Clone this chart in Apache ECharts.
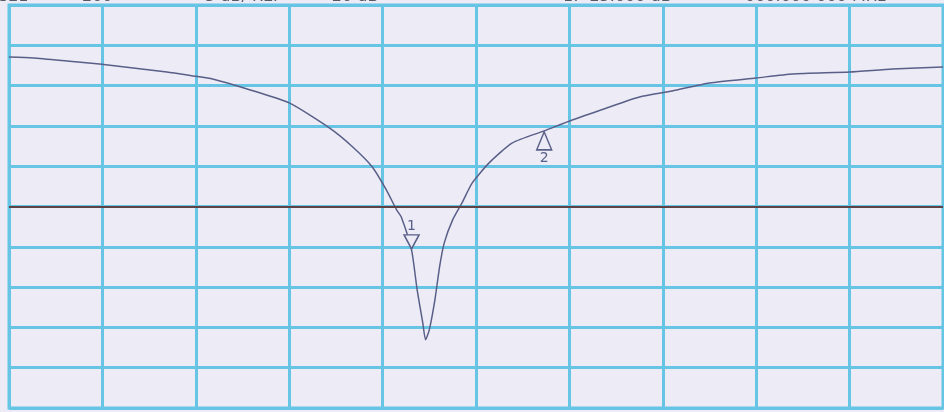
<!DOCTYPE html>
<html>
<head>
<meta charset="utf-8">
<script src="https://cdn.jsdelivr.net/npm/echarts@6/dist/echarts.min.js"></script>
<style>
  html, body { margin: 0; padding: 0; background: #ecebf6; }
  #chart { width: 944px; height: 412px; }
</style>
</head>
<body>
<div id="chart"></div>
<script>
// trace, x in divisions (0..10), y in dB
var traceX = [0, 0.26, 0.62, 0.97, 1.33, 1.69, 1.97, 2.18, 2.55, 3.0, 3.43, 3.68, 3.89, 4.04, 4.15, 4.2, 4.31, 4.37, 4.43, 4.46, 4.5, 4.56, 4.61, 4.66, 4.75, 4.85, 4.96, 5.14, 5.39, 5.73, 6.03, 6.4, 6.75, 7.1, 7.5, 8.0, 8.39, 9.0, 9.46, 10];
var traceDb = [-1.45, -1.57, -1.94, -2.32, -2.81, -3.31, -3.8, -4.18, -5.42, -7.15, -10.25, -12.61, -15.09, -17.94, -20.42, -21.29, -25.38, -30.34, -34.43, -36.54, -35.3, -31.58, -27.49, -24.51, -21.66, -19.55, -17.07, -14.59, -12.11, -10.62, -9.26, -7.77, -6.41, -5.67, -4.67, -4.05, -3.56, -3.31, -2.94, -2.69];

var markerNames = ['1', '2'];
var markerX = [4.31, 5.73];
var markerDb = [-25.38, -10.62];

var refLevel = -20;
var headerLeft = ['S21', '200', '5 dB/ REF', '-20 dB'];
var headerRight = ['1: -25.000 dB', '000.000 000 MHz'];

var gridColor = '#66c4e5';
var traceColor = '#5a5f88';
var bgColor = '#ecebf6';

var chart = echarts.init(document.getElementById('chart'));

var points = traceX.map(function (x, i) { return [x, traceDb[i]]; });

function headerText(x, txt) {
    return { type: 'text', left: x, top: -11, style: { text: txt, font: '16px "DejaVu Sans"', fill: '#555a66' } };
}

var option = {
    backgroundColor: bgColor,
    animation: false,
    grid: {
        left: 9, right: 1, top: 5, bottom: 4,
        show: true,
        borderColor: gridColor,
        borderWidth: 3
    },
    xAxis: {
        type: 'value', min: 0, max: 10, interval: 1,
        axisLine: { show: false }, axisTick: { show: false }, axisLabel: { show: false },
        splitLine: { show: true, lineStyle: { color: gridColor, width: 3 } }
    },
    yAxis: {
        type: 'value', min: -45, max: 5, interval: 5,
        axisLine: { show: false }, axisTick: { show: false }, axisLabel: { show: false },
        splitLine: { show: true, lineStyle: { color: gridColor, width: 3 } }
    },
    graphic: [
        headerText(-2, headerLeft[0]),
        headerText(82, headerLeft[1]),
        headerText(205, headerLeft[2]),
        headerText(326, headerLeft[3]),
        headerText(563, headerRight[0]),
        headerText(745, headerRight[1])
    ],
    series: [{
        type: 'line',
        data: points,
        symbol: 'none',
        smooth: 0.2,
        lineStyle: { color: traceColor, width: 1.5 },
        markLine: {
            silent: true,
            symbol: 'none',
            label: { show: false },
            lineStyle: { color: '#5e4244', width: 2, type: 'solid' },
            data: [{ yAxis: refLevel }]
        },
        markPoint: {
            silent: true,
            data: [
                {
                    coord: [markerX[0], markerDb[0]],
                    symbol: 'triangle', symbolRotate: 180, symbolSize: [15, 14], symbolOffset: [0, -8],
                    itemStyle: { color: bgColor, borderColor: traceColor, borderWidth: 1.5 },
                    label: { show: true, formatter: markerNames[0], position: 'top', distance: 1, color: traceColor, fontSize: 14, fontFamily: 'DejaVu Sans' }
                },
                {
                    coord: [markerX[1], markerDb[1]],
                    symbol: 'triangle', symbolSize: [15, 18], symbolOffset: [0, 10],
                    itemStyle: { color: bgColor, borderColor: traceColor, borderWidth: 1.5 },
                    label: { show: true, formatter: markerNames[1], position: 'bottom', distance: 1, color: traceColor, fontSize: 14, fontFamily: 'DejaVu Sans' }
                }
            ]
        }
    }]
};

chart.setOption(option);
</script>
</body>
</html>
